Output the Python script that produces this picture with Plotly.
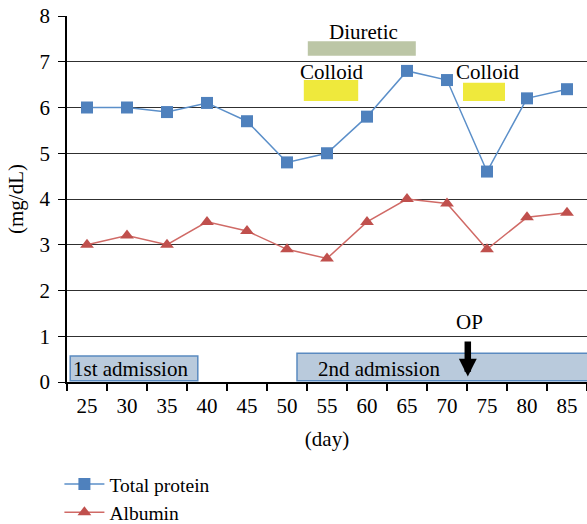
import plotly.graph_objects as go

days = [25, 30, 35, 40, 45, 50, 55, 60, 65, 70, 75, 80, 85]
total_protein = [6.0, 6.0, 5.9, 6.1, 5.7, 4.8, 5.0, 5.8, 6.8, 6.6, 4.6, 6.2, 6.4]
albumin = [3.0, 3.2, 3.0, 3.5, 3.3, 2.9, 2.7, 3.5, 4.0, 3.9, 2.9, 3.6, 3.7]
y_ticks = [0, 1, 2, 3, 4, 5, 6, 7, 8]

FONT = "Liberation Serif"
FS = 21
fig = go.Figure()
fig.add_trace(go.Scatter(x=days, y=total_protein, name="Total protein", mode="lines+markers",
                         line=dict(color="#5B8FC9", width=1.5),
                         marker=dict(symbol="square", size=12, color="#4F81BD")))
fig.add_trace(go.Scatter(x=days, y=albumin, name="Albumin", mode="lines+markers",
                         line=dict(color="#D06A66", width=1.5),
                         marker=dict(symbol="triangle-up", size=12, color="#C0504D")))

# treatment bars
fig.add_shape(type="rect", x0=52.6, x1=66.1, y0=7.13, y1=7.45, fillcolor="#BCC6A6", line=dict(width=0), layer="below")
fig.add_shape(type="rect", x0=52.1, x1=58.9, y0=6.14, y1=6.60, fillcolor="#EFE93C", line=dict(width=0), layer="below")
fig.add_shape(type="rect", x0=72.0, x1=77.25, y0=6.14, y1=6.54, fillcolor="#EFE93C", line=dict(width=0), layer="below")
# admissions
fig.add_shape(type="rect", x0=22.9, x1=38.85, y0=0.03, y1=0.57, fillcolor="#B9CADC",
              line=dict(color="#5A8AC0", width=1.5))
fig.add_shape(type="rect", x0=51.25, x1=88, y0=0.03, y1=0.63, fillcolor="#B9CADC",
              line=dict(color="#5A8AC0", width=1.5))

tf = dict(family=FONT, size=FS, color="black")
fig.add_annotation(x=59.6, y=7.65, text="Diuretic", showarrow=False, font=tf)
fig.add_annotation(x=55.6, y=6.78, text="Colloid", showarrow=False, font=tf)
fig.add_annotation(x=75.1, y=6.78, text="Colloid", showarrow=False, font=tf)
fig.add_annotation(x=30.4, y=0.28, text="1st admission", showarrow=False, font=tf)
fig.add_annotation(x=61.5, y=0.28, text="2nd admission", showarrow=False, font=tf)
fig.add_annotation(x=72.8, y=1.31, text="OP", showarrow=False, font=tf)
fig.add_annotation(x=72.6, y=0.12, ax=72.6, ay=0.92, axref="x", ayref="y", xref="x", yref="y",
                   text="", showarrow=True, arrowhead=2, arrowsize=0.55, arrowwidth=6.5, arrowcolor="black")

fig.update_layout(
    width=587, height=524,
    margin=dict(l=67, r=0, t=16, b=142, autoexpand=False),
    plot_bgcolor="white", paper_bgcolor="white",
    font=dict(family=FONT, size=FS, color="black"),
    showlegend=True,
    legend=dict(x=-0.0146, y=-0.226, xanchor="left", yanchor="top", font=dict(family=FONT, size=19.5),
                bgcolor="rgba(0,0,0,0)", tracegroupgap=0, itemwidth=40),
    xaxis=dict(range=[22.5, 87.5], tickvals=days, ticktext=[str(d) for d in days], ticks="",
               automargin=False, ticklabelstandoff=4,
               showgrid=False, zeroline=False, showline=True, linecolor="black", linewidth=1.5,
               minor=dict(tick0=22.5, dtick=5, ticks="outside", ticklen=7, tickcolor="black", tickwidth=1.5, showgrid=False),
               title=dict(text="(day)", font=dict(family=FONT, size=FS), standoff=14),
               tickfont=dict(family=FONT, size=FS)),
    yaxis=dict(range=[0, 8], tickvals=y_ticks, ticks="outside", ticklen=7, tickcolor="black",
               automargin=False, ticklabelstandoff=4,
               showgrid=True, gridcolor="#303030", gridwidth=1, zeroline=False,
               showline=True, linecolor="black", linewidth=1.5,
               title=dict(text="(mg/dL)", font=dict(family=FONT, size=FS), standoff=10),
               tickfont=dict(family=FONT, size=FS)),
)
fig.write_html("out.html", config={"displayModeBar": False},
               post_script="document.body.style.margin='0';document.body.style.padding='0';")
